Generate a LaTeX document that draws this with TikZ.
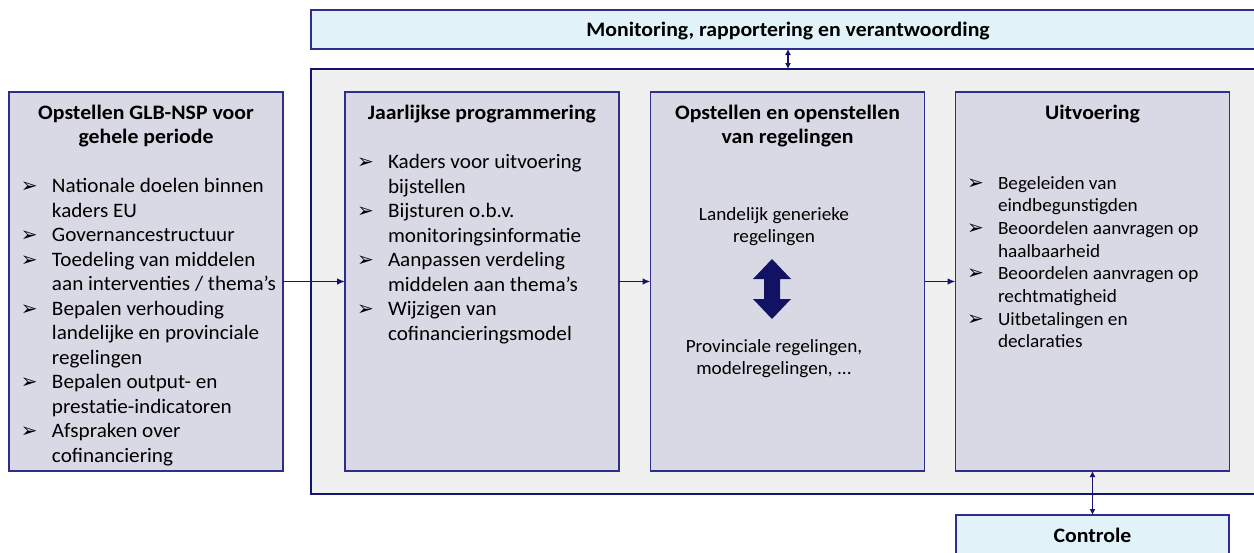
\documentclass[tikz,border=0pt]{standalone}
\usepackage{fontspec}
\setmainfont{Carlito}[FakeStretch=1.03,BoldFeatures={FakeStretch=1.06}]
\newfontfamily\dingfont{DejaVu Sans}
\usetikzlibrary{arrows.meta}
\definecolor{navy}{HTML}{2E2E8C}
\definecolor{arrowblue}{HTML}{14146E}
\definecolor{boxfill}{HTML}{D9D9E5}
\definecolor{framefill}{HTML}{F0F0F0}
\definecolor{monfill}{HTML}{E1F3F8}
\newcommand{\bul}[1]{\spaceskip=0pt\xspaceskip=0pt\hangindent=23.25pt\hangafter=1\noindent\rule{0pt}{12pt}\makebox[23.25pt][l]{\dingfont\fontsize{15}{15}\selectfont ➢}#1\par}

\begin{document}
\begin{tikzpicture}[x=0.75pt,y=-0.75pt,
  every node/.style={inner sep=0pt,outer sep=0pt},
  phase/.style={draw=navy,fill=boxfill,line width=0.9pt,minimum width=205.5pt,minimum height=284.25pt},
  bluebox/.style={draw=navy,fill=monfill,line width=0.9pt,minimum width=715.5pt,minimum height=29.25pt,
    font=\fontsize{15.4}{18.4}\selectfont\bfseries,text height=12pt,text depth=1pt},
  title/.style={font=\fontsize{15.4}{18.4}\selectfont\bfseries,align=center,anchor=north},
  plain/.style={font=\fontsize{14}{17}\selectfont,align=center,anchor=north},
  items/.style={font=\fontsize{15.4}{18.4}\selectfont,text width=200pt,align=left,anchor=north west},
  arr/.style={draw=arrowblue,line width=1.1pt,-{Latex[length=6pt,width=5pt]}},
  dblarr/.style={draw=arrowblue,line width=0.8pt,{Latex[length=4.5pt,width=4.5pt]}-{Latex[length=4.5pt,width=4.5pt]}}]
\useasboundingbox (0,0) rectangle (1254,553);
% outer frame and top/bottom bars
\node[draw=arrowblue,fill=framefill,line width=0.8pt,minimum width=715.5pt,minimum height=318.75pt] (frame) at (788,281.5) {};
\node[bluebox] (mon) at (788,29.5) {Monitoring, rapportering en verantwoording};
% phases
\node[phase] (glb) at (146,281.5) {};
\node[phase] (jaar) at (482,281.5) {};
\node[phase] (regel) at (787.5,281.5) {};
\node[phase] (uitv) at (1092.5,281.5) {};
\node[bluebox,minimum width=204.75pt,minimum height=30.75pt] (contr) at (1092.5,535.5) {Controle};
% titles
\node[title] (glbtitle) at (146,103) {\rule{0pt}{12pt}Opstellen GLB-NSP voor\\gehele periode};
\node[title] (jaartitle) at (482,103) {\rule{0pt}{12pt}Jaarlijkse programmering};
\node[title] (regeltitle) at (787.5,103) {\rule{0pt}{12pt}Opstellen en openstellen\\van regelingen};
\node[title] (uitvtitle) at (1092.5,103) {\rule{0pt}{12pt}Uitvoering};
% bullet lists
\node[items] (glbitems) at (21,176.6) {%
\bul{Nationale doelen binnen\newline kaders EU}
\bul{Governancestructuur}
\bul{Toedeling van middelen\newline aan interventies / thema’s}
\bul{Bepalen verhouding\newline landelijke en provinciale\newline regelingen}
\bul{Bepalen output- en\newline prestatie-indicatoren}
\bul{Afspraken over\newline cofinanciering}};
\node[items] (jaaritems) at (357,152.6) {%
\bul{Kaders voor uitvoering\newline bijstellen}
\bul{Bijsturen o.b.v.\newline monitoringsinformatie}
\bul{Aanpassen verdeling\newline middelen aan thema’s}
\bul{Wijzigen van\newline cofinancieringsmodel}};
\node[items,font=\fontsize{14}{17}\selectfont] (uitvitems) at (967,173) {%
\bul{Begeleiden van\newline eindbegunstigden}
\bul{Beoordelen aanvragen op\newline haalbaarheid}
\bul{Beoordelen aanvragen op\newline rechtmatigheid}
\bul{Uitbetalingen en\newline declaraties}};
\node[plain] (landelijk) at (774,204) {\rule{0pt}{12pt}Landelijk generieke\\regelingen};
\node[plain] (provinciaal) at (774,336) {\rule{0pt}{12pt}Provinciale regelingen,\\modelregelingen, ...};
% big double arrow
\fill[arrowblue!90!black] (772,259) -- (791,279) -- (780,279) -- (780,299) -- (791,299) -- (772,319)
  -- (753,299) -- (764,299) -- (764,279) -- (753,279) -- cycle;
% connectors
\draw[arr] (glb) -- (jaar);
\draw[arr] (jaar) -- (regel);
\draw[arr] (regel) -- (uitv);
\draw[dblarr] (mon) -- (frame);
\draw[dblarr] (uitv) -- (contr);
\end{tikzpicture}
\end{document}
